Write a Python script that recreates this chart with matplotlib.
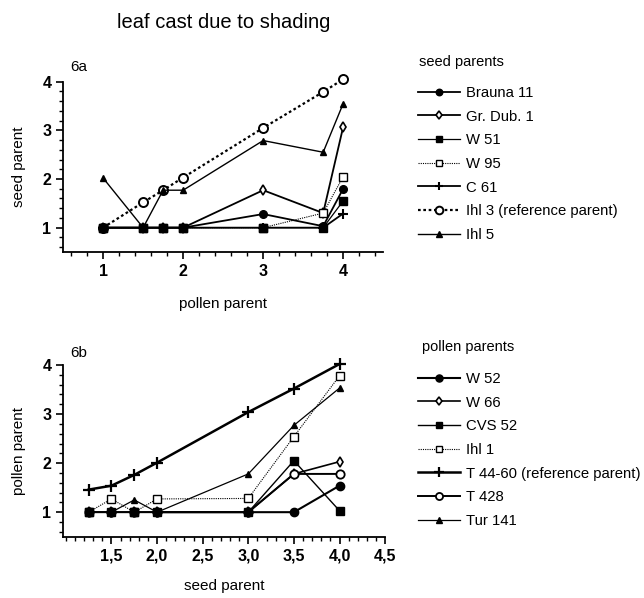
import numpy as np
import matplotlib
matplotlib.use("Agg")
import matplotlib.pyplot as plt
from matplotlib.ticker import MultipleLocator

plt.rcParams['font.family'] = ['Liberation Sans', 'DejaVu Sans']

nan = np.nan

# 6a: seed parents crossed with pollen parents
pollen_x = [1, 1.5, 1.75, 2, 3, 3.75, 4]
brauna_11 = [1, 1, 1, 1, 1.28, 1.03, 1.8]
gr_dub_1 = [1, 1, 1, 1, 1.77, 1.3, 3.07]
w_51 = [1, 1, 1, 1, 1, 1, 1.55]
w_95 = [1, 1, 1, 1, 1, 1.3, 2.05]
c_61 = [1, 1, 1, 1, 1, 1, 1.29]
ihl_3 = [1, 1.52, 1.77, 2.03, 3.05, 3.79, 4.05]
ihl_5 = [2.02, 1.0, 1.77, 1.77, 2.79, 2.55, 3.55]

# 6b: pollen parents crossed with seed parents
seed_x = [1.25, 1.5, 1.75, 2.0, 3.0, 3.5, 4.0]
w_52 = [nan, 1, nan, 1, 1, 1, 1.54]
w_66 = [1, 1, 1, 1, 1, 1.78, 2.03]
cvs_52 = [1, 1, 1, 1, 1, 2.05, 1.03]
ihl_1 = [1, 1.27, 1, 1.27, 1.28, 2.54, 3.78]
t_44_60 = [1.46, 1.54, 1.76, 2.01, 3.04, 3.52, 4.02]
t_428 = [1, 1, 1, 1, 1, 1.78, 1.78]
tur_141 = [1, 1, 1.25, 1, 1.78, 2.77, 3.53]

top_ticks = [1, 2, 3, 4]
bottom_ticks = [1.5, 2.0, 2.5, 3.0, 3.5, 4.0, 4.5]
bottom_labels = ["1,5", "2,0", "2,5", "3,0", "3,5", "4,0", "4,5"]

fig = plt.figure(figsize=(6.44, 5.98), dpi=100)
ax1 = fig.add_axes([0.098, 0.5786, 0.497, 0.2848])
ax2 = fig.add_axes([0.098, 0.1025, 0.500, 0.2871])

k = "black"
common = dict(color=k, markeredgecolor=k, clip_on=False)

# top panel (open markers first, filled ones end up on top)
ax1.plot(pollen_x, ihl_3, marker="o", markersize=6.5, markerfacecolor="white", mew=1.4,
         lw=1.6, ls=(0, (1.2, 1.2)), label="Ihl 3 (reference parent)", **common)
ax1.plot(pollen_x, ihl_5, marker="^", markersize=5, lw=1.0, label="Ihl 5", **common)
ax1.plot(pollen_x, gr_dub_1, marker="d", markersize=5, markerfacecolor="white", mew=1.2,
         lw=1.3, label="Gr. Dub. 1", **common)
ax1.plot(pollen_x, w_95, marker="s", markersize=5.5, markerfacecolor="white", lw=0.8,
         ls=(0, (1, 1)), label="W 95", **common)
ax1.plot(pollen_x, c_61, marker="+", markersize=7, mew=1.5, lw=1.3, label="C 61", **common)
ax1.plot(pollen_x, brauna_11, marker="o", markersize=5.5, lw=1.3, label="Brauna 11", **common)
ax1.plot(pollen_x, w_51, marker="s", markersize=5.5, lw=0.9, label="W 51", **common)

# bottom panel
ax2.plot(seed_x, ihl_1, marker="s", markersize=5.5, markerfacecolor="white", lw=0.8,
         ls=(0, (1, 1)), label="Ihl 1", **common)
ax2.plot(seed_x, tur_141, marker="^", markersize=5, lw=0.9, label="Tur 141", **common)
ax2.plot(seed_x, w_66, marker="d", markersize=5, markerfacecolor="white", mew=1.2,
         lw=1.2, label="W 66", **common)
ax2.plot(seed_x, t_428, marker="o", markersize=6, markerfacecolor="white", mew=1.3,
         lw=1.4, label="T 428", **common)
ax2.plot(seed_x, cvs_52, marker="s", markersize=5.5, lw=1.0, label="CVS 52", **common)
ax2.plot(seed_x, w_52, marker="o", markersize=6, lw=1.5, label="W 52", **common)
ax2.plot(seed_x, t_44_60, marker="+", markersize=8, mew=1.6, lw=1.8,
         label="T 44-60 (reference parent)", **common)

for ax in (ax1, ax2):
    ax.spines["top"].set_visible(False)
    ax.spines["right"].set_visible(False)
    ax.spines["left"].set_linewidth(1.3)
    ax.spines["bottom"].set_linewidth(1.3)
    ax.set_ylim(0.5, 4)
    ax.set_yticks([1, 2, 3, 4])
    ax.yaxis.set_minor_locator(MultipleLocator(0.2))
    ax.tick_params(which="major", direction="out", length=5, width=1.2, labelsize=11.5)
    ax.tick_params(which="minor", direction="out", length=3, width=1.0)
    for t in ax.get_xticklabels() + ax.get_yticklabels():
        t.set_fontweight("bold")

ax1.set_xlim(0.5, 4.5)
ax1.set_xticks(top_ticks)
ax1.xaxis.set_minor_locator(MultipleLocator(0.2))
ax1.set_xlabel("pollen parent", fontsize=11, labelpad=13)
ax1.set_ylabel("seed parent", fontsize=11, labelpad=12)

ax2.set_xlim(0.97, 4.5)
ax2.set_xticks(bottom_ticks)
ax2.set_xticklabels(bottom_labels, fontweight="bold")
ax2.xaxis.set_minor_locator(MultipleLocator(0.1))
ax2.set_xlabel("seed parent", fontsize=11, labelpad=11)
ax2.set_ylabel("pollen parent", fontsize=11, labelpad=12)

fig.text(0.109, 0.888, "6a", fontsize=11, va="center")
fig.text(0.109, 0.41, "6b", fontsize=11, va="center")
fig.text(0.348, 0.962, "leaf cast due to shading", fontsize=14.5, ha="center", va="center")

order1 = ["Brauna 11", "Gr. Dub. 1", "W 51", "W 95", "C 61", "Ihl 3 (reference parent)", "Ihl 5"]
order2 = ["W 52", "W 66", "CVS 52", "Ihl 1", "T 44-60 (reference parent)", "T 428", "Tur 141"]

fig.text(0.650, 1 - 62 / 598, "seed parents", fontsize=10.5, va="center")
fig.text(0.655, 1 - 347 / 598, "pollen parents", fontsize=10.5, va="center")

for ax, order, top in ((ax1, order1, 86), (ax2, order2, 372)):
    handles, labels = ax.get_legend_handles_labels()
    lookup = dict(zip(labels, handles))
    fig.legend([lookup[n] for n in order], order, loc="upper left",
               bbox_to_anchor=(0.649, 1 - top / 598), frameon=False, fontsize=10.7,
               handlelength=2.8, handletextpad=0.45, labelspacing=0.65,
               borderpad=0, borderaxespad=0, markerscale=0.85)

fig.savefig("out.png", dpi=100)
